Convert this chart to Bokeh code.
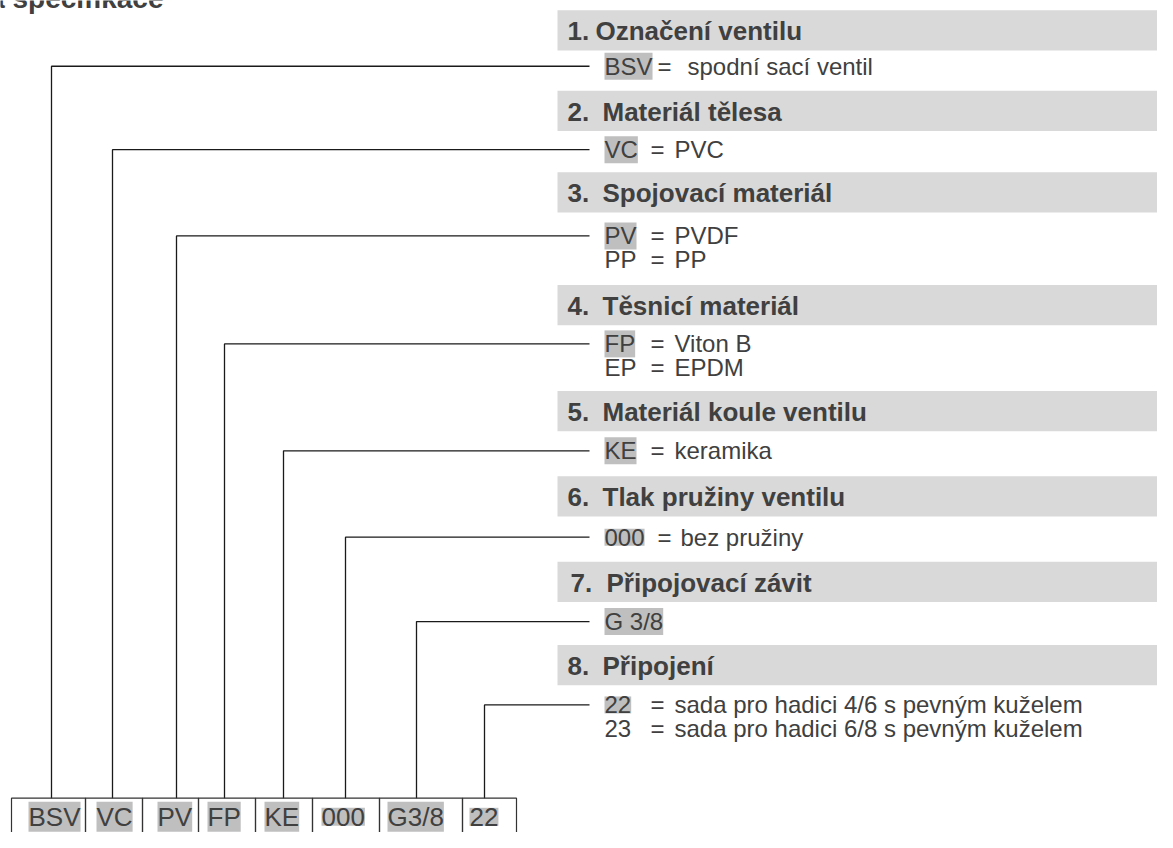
from bokeh.plotting import figure
from bokeh.models import Range1d, ColumnDataSource
from bokeh.core.properties import value
from bokeh.embed import file_html
from bokeh.resources import INLINE

# ---------------- data ----------------
title_text = "Typová specifikace"
header_nums = ["1.", "2.", "3.", "4.", "5.", "6.", "7.", "8."]
header_titles = ["Označení ventilu", "Materiál tělesa", "Spojovací materiál",
                 "Těsnicí materiál", "Materiál koule ventilu", "Tlak pružiny ventilu",
                 "Připojovací závit", "Připojení"]
row_codes = [["BSV"], ["VC"], ["PV", "PP"], ["FP", "EP"], ["KE"], ["000"],
             ["G 3/8"], ["22", "23"]]
row_descs = [["spodní sací ventil"], ["PVC"], ["PVDF", "PP"], ["Viton B", "EPDM"],
             ["keramika"], ["bez pružiny"], [""],
             ["sada pro hadici 4/6 s pevným kuželem",
              "sada pro hadici 6/8 s pevným kuželem"]]
box_labels = ["BSV", "VC", "PV", "FP", "KE", "000", "G3/8", "22"]

# ---------------- layout (reference pixel space) ----------------
band_tops = [10, 92, 175, 290, 398, 485, 572, 657]
band_h = 41
band_left, band_right = 557, 1200
num_x = [567, 567, 567, 567, 567, 567, 570, 567]
title_x = [595, 602, 602, 602, 602, 602, 606, 602]
row_y = [67, 152, 240, 350, 459, 547, 633, 718]
row_step = 24
eq_x = [657, 650, 650, 650, 650, 657, None, 650]
desc_x = [687, 674, 674, 674, 674, 680, None, 674]
code_x = 604
lead_end = 589
vert_x = [51, 112, 176, 224, 283, 345, 416, 484]
box_edges = [11, 85, 142, 198, 255, 312, 379, 462, 516]
box_top = 813
label_x = [28, 96, 157, 207, 264, 321, 387, 469]

FONT = value("Liberation Sans")
TXT = "#404040"

p = figure(width=1157, height=832, x_range=Range1d(0, 1157), y_range=Range1d(848, 0),
           output_backend="svg", toolbar_location=None, min_border=0,
           x_axis_location=None, y_axis_location=None)
p.grid.visible = False
p.outline_line_color = None
p.background_fill_color = "white"
p.border_fill_color = "white"

# title (mostly cut off at top, as in reference)
p.text(x=[163], y=[-2], text=[title_text], text_font=FONT, text_font_size="28px",
       text_font_style="bold", text_color=TXT, text_align="right",
       text_baseline="middle")

# header bands
p.quad(left=[band_left] * 8, right=[band_right] * 8, top=band_tops,
       bottom=[t + band_h for t in band_tops], fill_color="#d9d9d9", line_color=None)
hc = [t + band_h / 2 + 1 for t in band_tops]
p.text(x=num_x, y=hc, text=header_nums, text_font=FONT, text_font_size="26px",
       text_font_style="bold", text_color=TXT, text_baseline="middle")
p.text(x=title_x, y=hc, text=header_titles, text_font=FONT, text_font_size="26px",
       text_font_style="bold", text_color=TXT, text_baseline="middle")

# option rows
sel = dict(x=[], y=[], t=[])
oth = dict(x=[], y=[], t=[])
eqs = dict(x=[], y=[], t=[])
dsc = dict(x=[], y=[], t=[])
for i, (codes, descs) in enumerate(zip(row_codes, row_descs)):
    for j, (c, d) in enumerate(zip(codes, descs)):
        yy = row_y[i] + j * row_step
        tgt = sel if j == 0 else oth
        tgt["x"].append(code_x); tgt["y"].append(yy); tgt["t"].append(c)
        if d:
            eqs["x"].append(eq_x[i]); eqs["y"].append(yy); eqs["t"].append("=")
            dsc["x"].append(desc_x[i]); dsc["y"].append(yy); dsc["t"].append(d)

p.text(x="x", y="y", text="t", source=ColumnDataSource(sel), text_font=FONT,
       text_font_size="24px", text_color=TXT, text_baseline="middle",
       background_fill_color="#bfbfbf")
for src in (oth, eqs, dsc):
    p.text(x="x", y="y", text="t", source=ColumnDataSource(src), text_font=FONT,
           text_font_size="24px", text_color=TXT, text_baseline="middle")

# leader lines
xs, ys = [], []
for vx, ry in zip(vert_x, row_y):
    xs.append([lead_end, vx, vx])
    ys.append([ry, ry, box_top])
p.multi_line(xs=xs, ys=ys, line_color="#1a1a1a", line_width=1.3)

# bottom code boxes
p.quad(left=box_edges[:-1], right=box_edges[1:], top=[box_top] * 8,
       bottom=[900] * 8, fill_color=None, line_color="#333333", line_width=1.2)
p.text(x=label_x, y=[832] * 8, text=box_labels, text_font=FONT, text_font_size="26px",
       text_color=TXT, text_baseline="middle", background_fill_color="#bfbfbf")

open("out.html", "w").write(file_html(p, INLINE))
